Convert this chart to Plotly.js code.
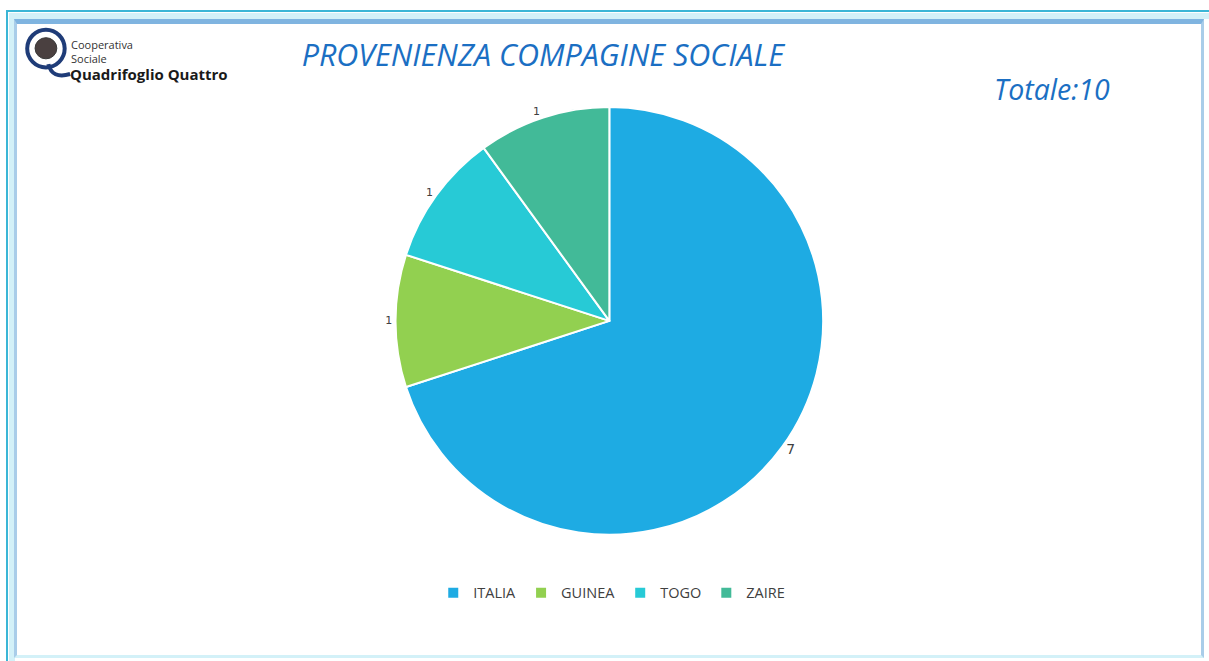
<!DOCTYPE html>
<html>
<head>
<meta charset="utf-8">
<script src="https://cdn.plot.ly/plotly-3.0.1.min.js"></script>
<style>
  html, body { margin:0; padding:0; background:#ffffff; }
  #wrap { position:relative; width:1209px; height:661px; overflow:hidden; background:#ffffff; }
  #frameOuter { position:absolute; left:6px; top:10px; width:1220px; height:680px; border:2px solid #3bb6d6; box-sizing:border-box; }
  #frameBand { position:absolute; left:9px; top:13px; width:1210px; height:660px; border:6px solid #d3f1f8; box-sizing:border-box; }
  #frameInner { position:absolute; left:14px; top:19px; width:1190px; height:639px; border-left:3px solid #a9cde9; border-top:5px solid #7fb4e0; border-right:3px solid #a9cde9; border-bottom:3px solid #d3f1f8; box-sizing:border-box; }
  #chart { position:absolute; left:0; top:0; width:1209px; height:661px; }
</style>
</head>
<body>
<div id="wrap">
  <div id="frameOuter"></div>
  <div id="frameBand"></div>
  <div id="frameInner"></div>
  <div id="chart"></div>
</div>
<script>
const countries = ["ITALIA", "GUINEA", "TOGO", "ZAIRE"];
const members = [7, 1, 1, 1];
const sliceColors = ["#1eabe3", "#92d050", "#27cad6", "#42ba98"];
const chartTitle = "PROVENIENZA COMPAGINE SOCIALE";
const totalLabel = "Totale:10";

const trace = {
  type: "pie",
  labels: countries,
  values: members,
  sort: false,
  direction: "clockwise",
  rotation: 0,
  marker: { colors: sliceColors, line: { color: "#ffffff", width: 2 } },
  textinfo: "value",
  textposition: "outside",
  textfont: { family: "DejaVu Sans", size: [14, 11, 11, 11], color: "#404040" },
  hoverinfo: "label+value",
  domain: { x: [0.25, 0.758], y: [0.191, 0.838] }
};

const layout = {
  width: 1209,
  height: 661,
  margin: { l: 0, r: 0, t: 0, b: 0 },
  paper_bgcolor: "rgba(0,0,0,0)",
  plot_bgcolor: "rgba(0,0,0,0)",
  showlegend: true,
  legend: {
    orientation: "h",
    x: 0.506, xanchor: "center",
    y: 0.103, yanchor: "middle",
    font: { family: "Open Sans", size: 14.5, color: "#404040" },
    itemwidth: 30,
    tracegroupgap: 0,
    traceorder: "normal"
  },
  title: {
    text: chartTitle,
    x: 0.449, xanchor: "center",
    y: 0.917, yanchor: "middle",
    font: { family: "Open Sans", size: 30.5, color: "#1b6fc3", style: "italic" }
  },
  annotations: [
    { text: totalLabel, xref: "paper", yref: "paper", x: 0.870, y: 0.866, xanchor: "center", yanchor: "middle",
      showarrow: false, font: { family: "Open Sans", size: 28.5, color: "#1b6fc3", style: "italic" } },
    { text: "Cooperativa", xref: "paper", yref: "paper", x: 0.057, y: 0.933, xanchor: "left", yanchor: "middle",
      showarrow: false, font: { family: "Open Sans", size: 11, color: "#333333" } },
    { text: "Sociale", xref: "paper", yref: "paper", x: 0.057, y: 0.912, xanchor: "left", yanchor: "middle",
      showarrow: false, font: { family: "Open Sans", size: 11, color: "#333333" } },
    { text: "<b>Quadrifoglio Quattro</b>", xref: "paper", yref: "paper", x: 0.056, y: 0.888, xanchor: "left", yanchor: "middle",
      showarrow: false, font: { family: "Open Sans", size: 15, color: "#1a1a1a" } }
  ],
  shapes: [
    { type: "circle", xref: "paper", yref: "paper", x0: 0.0225, x1: 0.0535, y0: 0.898, y1: 0.955,
      line: { color: "#1f3c78", width: 4 }, fillcolor: "#ffffff" },
    { type: "circle", xref: "paper", yref: "paper", x0: 0.029, x1: 0.047, y0: 0.911, y1: 0.943,
      line: { color: "#3a3a3a", width: 1 }, fillcolor: "#4a4040" },
    { type: "path", xref: "paper", yref: "paper",
      path: "M 0.040 0.903 Q 0.043 0.880 0.058 0.888",
      line: { color: "#1f3c78", width: 4 } }
  ]
};

Plotly.newPlot("chart", [trace], layout, { displayModeBar: false, staticPlot: true });
</script>
</body>
</html>
